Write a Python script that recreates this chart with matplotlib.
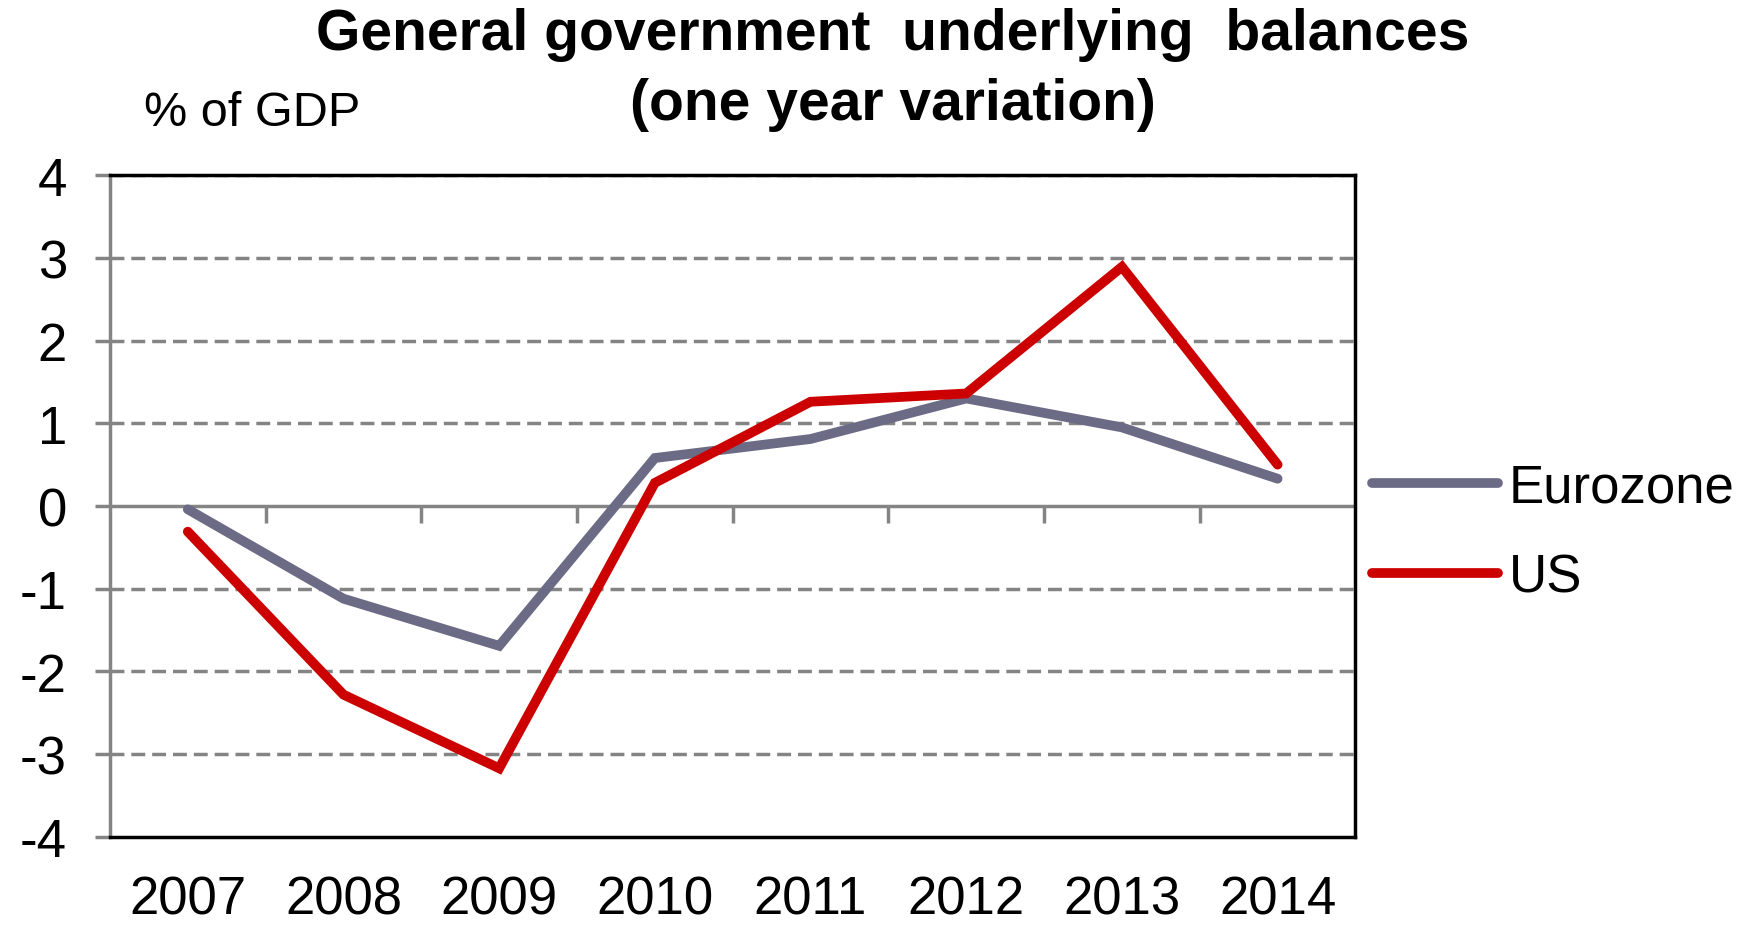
import numpy as np
import matplotlib
matplotlib.use('Agg')
from matplotlib import pyplot as plt

years = ['2007', '2008', '2009', '2010', '2011', '2012', '2013', '2014']
eurozone = [-0.04, -1.12, -1.69, 0.58, 0.81, 1.30, 0.95, 0.33]
us = [-0.31, -2.28, -3.17, 0.28, 1.26, 1.36, 2.89, 0.50]
yticks = [-4, -3, -2, -1, 0, 1, 2, 3, 4]

plt.rcParams['font.family'] = ['Liberation Sans', 'DejaVu Sans']
grey = '#848484'

fig = plt.figure(figsize=(17.51, 9.28), dpi=100)
ax = fig.add_axes([0.0628, 0.097, 0.7113, 0.7133])

x = np.arange(len(years))
ax.set_xlim(-0.5, len(years) - 0.5)
ax.set_ylim(-4, 4)

# dashed gridlines (not at zero, zero gets a solid axis line)
for v in yticks:
    if v != 0 and v != -4:
        ax.axhline(v, color=grey, lw=2.5, ls=(0, (4, 2)), zorder=1)
ax.axhline(0, color=grey, lw=2.5, zorder=2)
# category separator ticks under the zero line
bounds = x[:-1] + 0.5
ax.vlines(bounds, -0.2, 0, color=grey, lw=2.5, zorder=2)

ax.plot(x, eurozone, color='#6B6B86', lw=7, solid_capstyle='round',
        solid_joinstyle='miter', label='Eurozone', zorder=3)
ax.plot(x, us, color='#CC0000', lw=7, solid_capstyle='round',
        solid_joinstyle='miter', label='US', zorder=4)

for s in ['top', 'right', 'bottom']:
    ax.spines[s].set_color('black')
    ax.spines[s].set_linewidth(2.5)
ax.spines['left'].set_color(grey)
ax.spines['left'].set_linewidth(2.5)

ax.set_yticks(yticks)
ax.set_yticklabels([str(v).replace('\u2212', '-') for v in yticks], fontsize=38)
ax.tick_params(axis='y', direction='out', length=11, width=2.5, color=grey, pad=20)
ax.set_xticks(x)
ax.set_xticklabels(years, fontsize=38)
ax.tick_params(axis='x', length=0, pad=27)

fig.text(0.51, 0.962, 'General government  underlying  balances', ha='center', va='center',
         fontsize=41, fontweight='bold')
fig.text(0.51, 0.887, '(one year variation)', ha='center', va='center',
         fontsize=41, fontweight='bold')
fig.text(0.082, 0.878, '% of GDP', ha='left', va='center', fontsize=35)

leg = ax.legend(loc='center left', bbox_to_anchor=(0.975, 0.46), frameon=False,
                fontsize=38, handlelength=2.4, handletextpad=0.2, labelspacing=0.75)

fig.savefig('out.png', dpi=100)
